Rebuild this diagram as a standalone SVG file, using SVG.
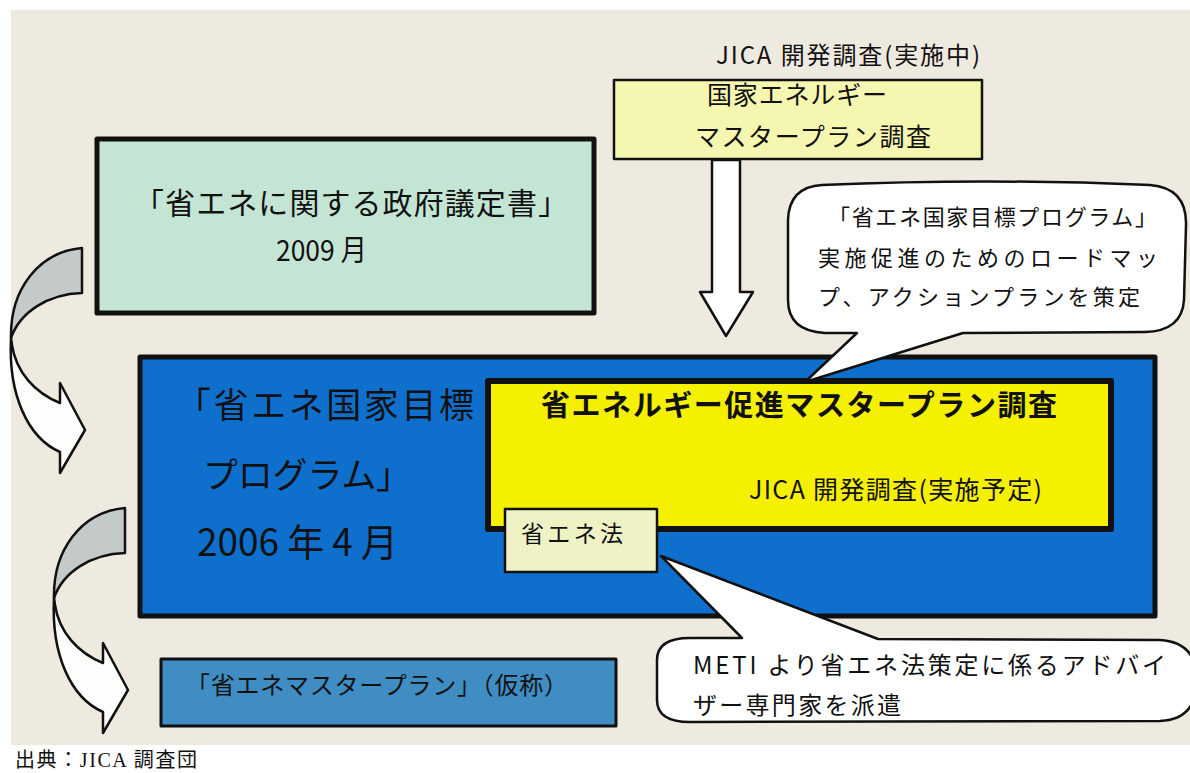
<svg xmlns="http://www.w3.org/2000/svg" xmlns:xlink="http://www.w3.org/1999/xlink" width="1190" height="773" viewBox="0 0 1190 773">
<style>
.jp{font-family:"Noto Sans CJK JP","Noto Sans CJK SC",sans-serif;fill:#111;}
.serif{font-family:"Liberation Serif","Noto Sans CJK JP",serif;fill:#111;}
.ln{stroke:#111;stroke-linejoin:round;}
.bubble{fill:#fff;stroke:#111;stroke-width:2.5;stroke-linejoin:round;}
</style>
<defs>
<g id="curved">
<path d="M 11 338 C 8 395, 28 438, 60 452 L 60 473 L 85 430 L 60 383 L 60 403 C 35 393, 16 372, 12 345 Z" fill="#fdfdfb" stroke="#111" stroke-width="2.5" stroke-linejoin="round"/>
<path d="M 82 248 C 38 252, 10 290, 11 338 C 20 312, 48 294, 82 293 Z" fill="#c4c9c9" stroke="#111" stroke-width="2.5" stroke-linejoin="round"/>
</g>
</defs>
<rect x="0" y="0" width="1190" height="773" fill="#ffffff"/>
<rect x="11" y="10" width="1179" height="735" fill="#efeadf"/>

<g id="connectors">
<use xlink:href="#curved"/>
<use xlink:href="#curved" transform="translate(43,260)"/>
<path d="M 712 160 L 740 160 L 740 292 L 753 292 L 726 336 L 700 292 L 712 292 Z" fill="#ffffff" class="ln" stroke-width="2.5"/>
</g>

<g id="jica-top">
<text class="jp" x="716" y="64" font-size="24" textLength="264">JICA 開発調査(実施中)</text>
</g>

<g id="national-survey">
<rect x="614" y="80" width="368" height="79" fill="#f5f6b0" class="ln" stroke-width="2.5"/>
<text class="jp" x="707" y="104" font-size="25" textLength="180">国家エネルギー</text>
<text class="jp" x="695" y="146" font-size="25" textLength="236">マスタープラン調査</text>
</g>

<g id="protocol">
<rect x="97" y="139" width="497" height="174" fill="#c5e5d4" class="ln" stroke-width="5"/>
<text class="jp" x="134" y="214" font-size="30" textLength="434">「省エネに関する政府議定書」</text>
<text class="jp" x="276" y="261" font-size="29" textLength="91" lengthAdjust="spacingAndGlyphs">2009 月</text>
</g>

<g id="national-program">
<rect x="140" y="357" width="1015" height="259" fill="#0e6fcd" class="ln" stroke-width="5"/>
<text class="jp" x="176" y="418" font-size="35" textLength="298">「省エネ国家目標</text>
<text class="jp" x="203" y="488" font-size="35" textLength="208">プログラム」</text>
<text class="jp" x="197" y="556" font-size="38" textLength="201" lengthAdjust="spacingAndGlyphs">2006 年 4 月</text>
</g>

<g id="promotion-survey">
<rect x="488" y="381" width="623" height="148" fill="#f4f000" class="ln" stroke-width="6"/>
<text class="jp" x="541" y="416" font-size="29" font-weight="bold" textLength="516">省エネルギー促進マスタープラン調査</text>
<text class="jp" x="749" y="499" font-size="25" textLength="293">JICA 開発調査(実施予定)</text>
</g>

<g id="energy-law">
<rect x="505" y="509" width="152" height="63" fill="#eef2c4" class="ln" stroke-width="2.5"/>
<text class="jp" x="521" y="542" font-size="23" textLength="102">省エネ法</text>
</g>

<g id="master-plan">
<rect x="161" y="659" width="455" height="67" fill="#3f8dc3" class="ln" stroke-width="3"/>
<text class="jp" x="186" y="694" font-size="24" textLength="382">「省エネマスタープラン」（仮称）</text>
</g>

<g id="callout-roadmap">
<path class="bubble" d="M 822 185 Q 985 178 1150 185 Q 1187 188 1186 225 L 1184 300 Q 1182 331 1145 332 L 963 333 L 805 382 L 857 333 L 825 333 Q 788 331 788 300 L 788 220 Q 789 187 822 185 Z"/>
<text class="jp" x="828" y="225" font-size="22" textLength="329">「省エネ国家目標プログラム」</text>
<text class="jp" x="818" y="266" font-size="22" textLength="340">実施促進のためのロードマッ</text>
<text class="jp" x="818" y="305" font-size="22" textLength="322">プ、アクションプランを策定</text>
</g>

<g id="callout-meti">
<path class="bubble" d="M 690 638 L 742 638 L 661 556 L 878 639 L 1160 640 Q 1196 642 1198 680 Q 1196 720 1160 721 L 690 722 Q 657 722 657 700 L 657 660 Q 657 638 690 638 Z"/>
<text class="jp" x="693" y="674" font-size="24" textLength="473">METI より省エネ法策定に係るアドバイ</text>
<text class="jp" x="693" y="714" font-size="24" textLength="208">ザー専門家を派遣</text>
</g>

<g id="source">
<text class="serif" x="15" y="767" font-size="20" textLength="182">出典：JICA 調査団</text>
</g>
</svg>
